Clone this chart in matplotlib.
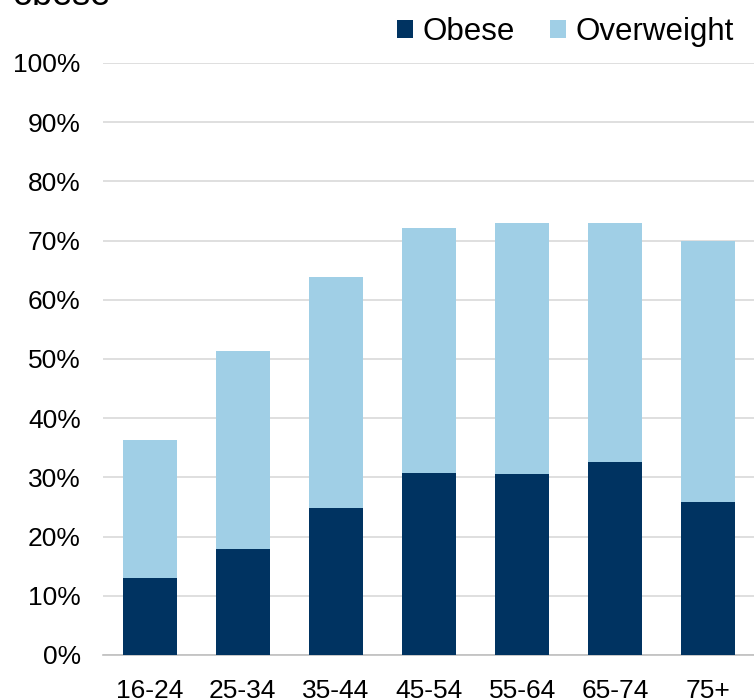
import numpy as np
import matplotlib.pyplot as plt
from matplotlib.ticker import PercentFormatter

plt.rcParams['font.family'] = ['Liberation Sans', 'DejaVu Sans']

# Data (% of adults)
age_groups = ['16-24', '25-34', '35-44', '45-54', '55-64', '65-74', '75+']
obese = [13.0, 17.9, 24.8, 30.7, 30.6, 32.6, 25.8]
overweight = [23.3, 33.5, 39.1, 41.4, 42.4, 40.4, 44.1]

dark = '#003361'
light = '#a0cfe6'

fig = plt.figure(figsize=(7.54, 6.99), dpi=100)
ax = fig.add_axes([103 / 754, 44 / 699, 652 / 754, 592 / 699])

x = np.arange(len(age_groups))
ax.bar(x, obese, width=0.58, color=dark, label='Obese', zorder=3)
ax.bar(x, overweight, width=0.58, bottom=obese, color=light, label='Overweight', zorder=3)

ax.set_xlim(-0.5, len(age_groups) - 0.5)
ax.set_ylim(0, 100)
ax.set_yticks(np.arange(0, 101, 10))
ax.yaxis.set_major_formatter(PercentFormatter(decimals=0))
ax.set_xticks(x)
ax.set_xticklabels(age_groups)
ax.grid(axis='y', color='#d9d9d9', linewidth=1.2, zorder=0)
ax.tick_params(axis='both', length=0, labelsize=19, colors='#000000')
ax.tick_params(axis='y', pad=16)
ax.tick_params(axis='x', pad=17)
for side in ['top', 'right', 'left']:
    ax.spines[side].set_visible(False)
ax.spines['bottom'].set_color('#bfbfbf')
ax.spines['bottom'].set_linewidth(1.2)

# title line that is mostly cut off at the top edge, as in the original
fig.text(13 / 754, 1 - 5 / 699, 'obese', fontsize=26, ha='left', va='baseline')

fig.legend(loc='upper right', bbox_to_anchor=(751 / 754, 1.0), ncol=2, frameon=False,
           fontsize=22.5, handlelength=0.5, handleheight=0.5, handletextpad=0.3,
           columnspacing=1.15, borderaxespad=0.15)

fig.savefig('out.png', dpi=100)
